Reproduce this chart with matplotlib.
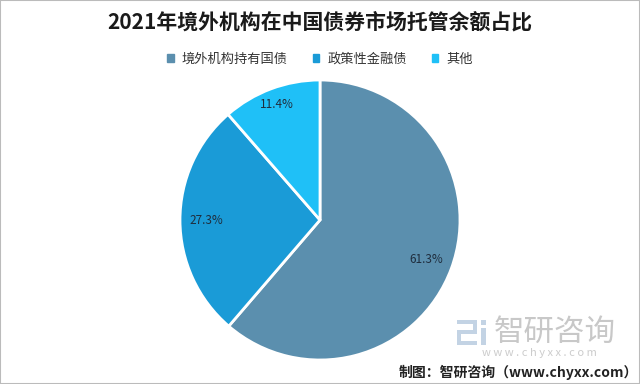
import matplotlib.pyplot as plt
import numpy as np
from matplotlib.patches import Rectangle

plt.rcParams['font.family'] = ['Noto Sans CJK SC', 'DejaVu Sans']

categories = ["境外机构持有国债", "政策性金融债", "其他"]
shares = [61.3, 27.3, 11.4]
colors = ["#5b8fae", "#1a9bd7", "#1fc0f7"]

fig = plt.figure(figsize=(6.4, 3.84), dpi=100)
fig.patch.set_facecolor("white")

# pie centred at (320, 220) px, radius ~140 px
ax = fig.add_axes([(320 - 145) / 640, (384 - 220 - 145) / 384, 290 / 640, 290 / 384])
wedges, _ = ax.pie(
    shares, colors=colors, startangle=90, counterclock=False, radius=140 / 145,
    wedgeprops=dict(edgecolor="white", linewidth=2),
)
ax.set_xlim(-1, 1)
ax.set_ylim(-1, 1)
ax.set_aspect("equal")

# percentage labels placed along each wedge
start = 90.0
label_r = [0.81, 0.81, 0.88]
for share, r in zip(shares, label_r):
    mid = start - share * 3.6 / 2
    start -= share * 3.6
    th = np.deg2rad(mid)
    ax.text(r * np.cos(th) * 140 / 145, r * np.sin(th) * 140 / 145, f"{share:.1f}%",
            ha="center", va="center", fontsize=8.5, color="#1f2d3d")

fig.text(0.5, 1 - 22 / 384, "2021年境外机构在中国债券市场托管余额占比",
         ha="center", va="center", fontsize=15, fontweight="bold", color="#1a1a1a")

handles = [Rectangle((0, 0), 1, 1, color=c) for c in colors]
fig.legend(handles, categories, loc="center", bbox_to_anchor=(0.5, 1 - 59 / 384),
           ncol=3, frameon=False, fontsize=9.5, handlelength=0.5, handleheight=0.5,
           handletextpad=0.6, columnspacing=1.9, labelcolor="#333333")

# watermark logo (rough blocky mark)
def px_rect(x, y, w, h, c):
    fig.add_artist(Rectangle((x / 640, 1 - (y + h) / 384), w / 640, h / 384,
                             transform=fig.transFigure, color=c, lw=0))

logo = "#c3d3e4"
px_rect(457, 320, 20, 4, logo)
px_rect(473, 320, 4, 13, logo)
px_rect(457, 330, 20, 4, logo)
px_rect(457, 330, 4, 15, logo)
px_rect(457, 341, 20, 4, logo)
px_rect(481, 320, 5, 5, logo)
px_rect(481, 328, 5, 17, logo)

fig.text(494 / 640, 1 - 332 / 384, "智研咨询", ha="left", va="center",
         fontsize=22, color="#c8c8c8")
fig.text(539 / 640, 1 - 353 / 384, "w w w . c h y x x . c o m", ha="center", va="center",
         fontsize=8, color="#cccccc")
fig.text(638 / 640, 1 - 372 / 384, "制图：智研咨询（www.chyxx.com）", ha="right", va="center",
         fontsize=10, fontweight="bold", color="#222222")

fig.add_artist(Rectangle((0, 0), 1, 1, transform=fig.transFigure, fill=False,
                         edgecolor="#bbbbbb", linewidth=1.5))

fig.savefig("out.png", dpi=100)
